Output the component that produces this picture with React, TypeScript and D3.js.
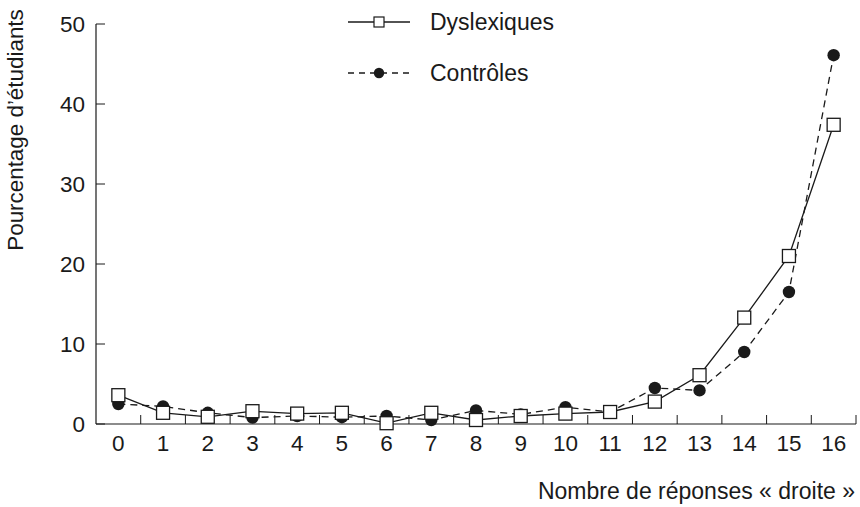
import React from "react";
import * as d3 from "d3";

const categories = ["0","1","2","3","4","5","6","7","8","9","10","11","12","13","14","15","16"];
const dyslexiques = [3.6, 1.4, 0.9, 1.6, 1.3, 1.4, 0.1, 1.4, 0.5, 1.0, 1.3, 1.5, 2.8, 6.1, 13.3, 21.0, 37.4];
const controles = [2.5, 2.2, 1.4, 0.8, 1.0, 0.85, 1.0, 0.5, 1.7, 1.2, 2.1, 1.5, 4.5, 4.2, 9.0, 16.5, 46.1];
const yTicks = [0, 10, 20, 30, 40, 50];
const seriesNames = ["Dyslexiques", "Contrôles"];

const W = 860, H = 507;
const left = 96, right = 856, top = 24, bottom = 424;
const font = "'Liberation Sans', Arial, Helvetica, sans-serif";

export default function App() {
  const x = d3.scaleBand<string>().domain(categories).range([left, right]).padding(0);
  const y = d3.scaleLinear().domain([0, 50]).range([bottom, top]);
  const cx = (i: number) => (x(categories[i]) as number) + x.bandwidth() / 2;
  const line = d3.line<number>().x((_, i) => cx(i)).y((d) => y(d));
  const boundaries = categories.map((c) => (x(c) as number) + x.bandwidth());
  const sq = 13;
  const color = "#1a1a1a";

  return (
    <svg width={W} height={H} style={{ position: "absolute", left: 0, top: 0, background: "#fff" }} fontFamily={font}>
      {/* axes */}
      <line x1={left} y1={top} x2={left} y2={bottom} stroke={color} strokeWidth={1.2} />
      <line x1={left} y1={bottom} x2={right} y2={bottom} stroke={color} strokeWidth={1.2} />
      {yTicks.map((t) => (
        <g key={t}>
          <line x1={left} x2={left + 9} y1={y(t)} y2={y(t)} stroke={color} strokeWidth={1} />
          <text x={85} y={y(t)} dy="0.36em" textAnchor="end" fontSize={22.5} fill={color}>{t}</text>
        </g>
      ))}
      {boundaries.map((b, i) => (
        <line key={i} x1={b} x2={b} y1={bottom} y2={bottom - 9} stroke={color} strokeWidth={1} />
      ))}
      {categories.map((c, i) => (
        <text key={c} x={cx(i)} y={451} textAnchor="middle" fontSize={22.5} fill={color}>{c}</text>
      ))}
      <text x={855} y={499} textAnchor="end" fontSize={23} fill={color}>Nombre de réponses « droite »</text>
      <text transform="translate(23,130) rotate(-90)" textAnchor="middle" fontSize={22.4} fill={color}>Pourcentage d’étudiants</text>

      {/* lines */}
      <path d={line(controles) as string} fill="none" stroke={color} strokeWidth={1.3} strokeDasharray="7,5" />
      <path d={line(dyslexiques) as string} fill="none" stroke={color} strokeWidth={1.3} />
      {controles.map((v, i) => (
        <circle key={"c" + i} cx={cx(i)} cy={y(v)} r={6.2} fill={color} />
      ))}
      {dyslexiques.map((v, i) => (
        <rect key={"d" + i} x={cx(i) - sq / 2} y={y(v) - sq / 2} width={sq} height={sq} fill="#fff" stroke={color} strokeWidth={1.3} />
      ))}

      {/* legend */}
      <line x1={348} x2={410} y1={22} y2={22} stroke={color} strokeWidth={1.3} />
      <rect x={374} y={17} width={10} height={10} fill="#fff" stroke={color} strokeWidth={1.2} />
      <text x={430} y={30} fontSize={23} fill={color}>{seriesNames[0]}</text>
      <line x1={348} x2={410} y1={73} y2={73} stroke={color} strokeWidth={1.3} strokeDasharray="6,5" />
      <circle cx={379} cy={73} r={5.2} fill={color} />
      <text x={430} y={81} fontSize={23} fill={color}>{seriesNames[1]}</text>
    </svg>
  );
}
